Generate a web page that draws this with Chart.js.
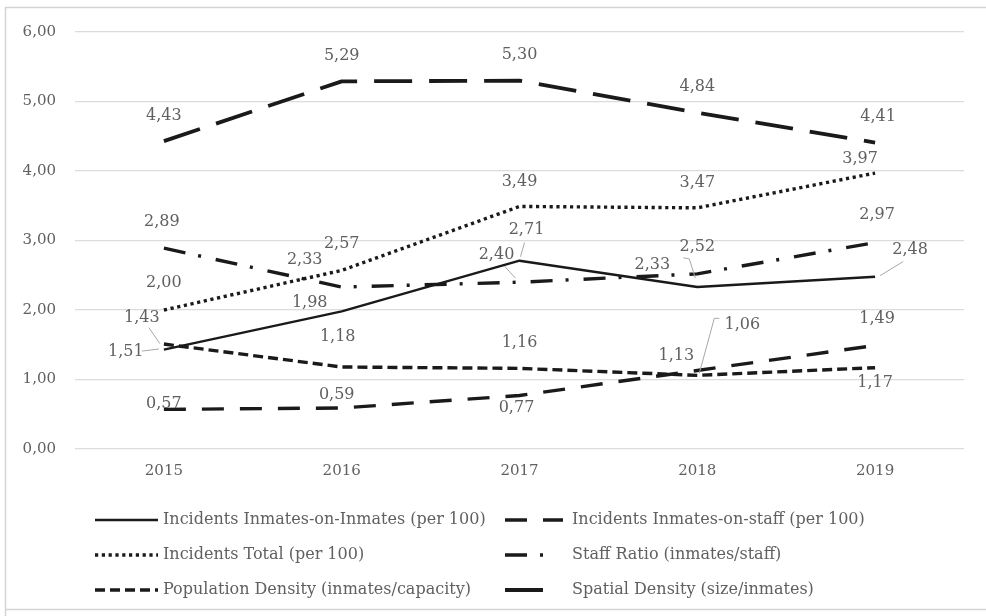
<!DOCTYPE html>
<html><head><meta charset="utf-8">
<script src="https://cdn.jsdelivr.net/npm/chart.js@4"></script>
<style>html,body{margin:0;padding:0;background:#fff}#wrap{width:986px;height:616px;position:relative}</style>
</head><body><div id="wrap"><canvas id="c" width="986" height="616"></canvas></div>
<script>
// ---- data ----
const categories = ['2015', '2016', '2017', '2018', '2019'];
const seriesNames = [
  'Incidents Inmates-on-Inmates (per 100)',
  'Incidents Inmates-on-staff (per 100)',
  'Incidents Total (per 100)',
  'Staff Ratio (inmates/staff)',
  'Population Density (inmates/capacity)',
  'Spatial Density (size/inmates)'
];
const inmatesOnInmates = [1.43, 1.98, 2.71, 2.33, 2.48];
const inmatesOnStaff = [0.57, 0.59, 0.77, 1.13, 1.49];
const incidentsTotal = [2.00, 2.57, 3.49, 3.47, 3.97];
const staffRatio = [2.89, 2.33, 2.40, 2.52, 2.97];
const populationDensity = [1.51, 1.18, 1.16, 1.06, 1.17];
const spatialDensity = [4.43, 5.29, 5.30, 4.84, 4.41];
const yTickValues = [0, 1, 2, 3, 4, 5, 6];

// ---- styles ----
const lineColor = '#1a1a1a';
const textColor = '#606060';
const fontFamily = '"DejaVu Serif", "Liberation Serif", serif';
const seriesStyles = [
  { width: 2.5, dash: [], cap: 'butt' },
  { width: 3.4, dash: [22, 16], cap: 'butt' },
  { width: 3.4, dash: [3.2, 3.6], cap: 'butt' },
  { width: 3.4, dash: [22, 13, 3, 15], cap: 'butt' },
  { width: 3.4, dash: [10, 5], cap: 'butt' },
  { width: 3.8, dash: [38, 17], cap: 'butt' }
];
// label offsets (dx, dy) of label centre from its point
const labelOffsets = [
  [[-22, -32], [-32, -9], [7, -31], [-45, -22], [35, -27]],
  [[0, -6], [-5, -13], [-3, 12], [-21, -15], [2, -27]],
  [[0, -27], [0, -27], [0, -25], [0, -25], [-15, -14]],
  [[-2, -26], [-37, -27], [-23, -27], [0, -27], [2, -28]],
  [[-38, 8], [-4, -30], [0, -26], [45, -50], [0, 15]],
  [[0, -25], [0, -26], [0, -26], [0, -26], [3, -26]]
];
const leaderLines = [
  [[[-15, -22], [-4, -6]], null, [[5, -18], [1, -4]], null, [[28, -15], [5, -1]]],
  [null, null, null, null, null],
  [null, null, null, null, null],
  [null, null, [[-15, -16], [-4, -4]], [[-14, -16], [-8, -15], [-2, 4]], null],
  [[[-22, 7], [-5, 5]], null, null, [[22, -57], [17, -57], [2, -2]], null],
  [null, null, null, null, null]
];
const legendRows = [520, 555, 590];
const legendSampleX = [95, 505];
const legendTextX = [163, 572];
const legendSampleWidth = [63, 58, 63, 45, 63, 43];

const fmt = v => v.toFixed(2).replace('.', ',');
const allSeries = [inmatesOnInmates, inmatesOnStaff, incidentsTotal, staffRatio, populationDensity, spatialDensity];

const datasets = allSeries.map((d, i) => ({
  label: seriesNames[i],
  data: d,
  borderColor: lineColor,
  backgroundColor: lineColor,
  borderWidth: seriesStyles[i].width,
  borderDash: seriesStyles[i].dash,
  borderCapStyle: seriesStyles[i].cap,
  borderJoinStyle: 'round',
  pointRadius: 0,
  tension: 0,
  fill: false
}));

const framePlugin = {
  id: 'frame',
  beforeDraw(chart) {
    const ctx = chart.ctx;
    ctx.save();
    ctx.fillStyle = '#fff';
    ctx.fillRect(0, 0, chart.width, chart.height);
    ctx.strokeStyle = '#d4d4d4';
    ctx.lineWidth = 1.5;
    ctx.beginPath();
    ctx.moveTo(5.5, chart.height);
    ctx.lineTo(5.5, 7.5);
    ctx.lineTo(chart.width, 7.5);
    ctx.moveTo(5.5, 609.5);
    ctx.lineTo(chart.width, 609.5);
    ctx.stroke();
    ctx.restore();
  }
};

const labelPlugin = {
  id: 'valueLabels',
  afterDatasetsDraw(chart) {
    const ctx = chart.ctx;
    ctx.save();
    chart.data.datasets.forEach((ds, di) => {
      const meta = chart.getDatasetMeta(di);
      meta.data.forEach((pt, i) => {
        const lead = leaderLines[di][i];
        if (lead) {
          ctx.strokeStyle = '#a8a8a8';
          ctx.lineWidth = 1;
          ctx.setLineDash([]);
          ctx.beginPath();
          lead.forEach((p, k) => {
            const x = pt.x + p[0], y = pt.y + p[1];
            if (k === 0) ctx.moveTo(x, y); else ctx.lineTo(x, y);
          });
          ctx.stroke();
        }
      });
    });
    ctx.font = '16px ' + fontFamily;
    ctx.fillStyle = textColor;
    ctx.textAlign = 'center';
    ctx.textBaseline = 'middle';
    chart.data.datasets.forEach((ds, di) => {
      const meta = chart.getDatasetMeta(di);
      meta.data.forEach((pt, i) => {
        const o = labelOffsets[di][i];
        ctx.fillText(fmt(ds.data[i]), pt.x + o[0], pt.y + o[1]);
      });
    });
    ctx.restore();
  }
};

const legendPlugin = {
  id: 'gridLegend',
  afterDraw(chart) {
    const ctx = chart.ctx;
    ctx.save();
    chart.data.datasets.forEach((ds, i) => {
      const row = Math.floor(i / 2), col = i % 2;
      const y = legendRows[row];
      const x0 = legendSampleX[col];
      ctx.strokeStyle = lineColor;
      ctx.lineWidth = ds.borderWidth;
      ctx.lineCap = ds.borderCapStyle;
      ctx.setLineDash(ds.borderDash);
      ctx.beginPath();
      ctx.moveTo(x0, y);
      ctx.lineTo(x0 + legendSampleWidth[i], y);
      ctx.stroke();
      ctx.setLineDash([]);
      ctx.font = '16px ' + fontFamily;
      ctx.fillStyle = textColor;
      ctx.textAlign = 'left';
      ctx.textBaseline = 'middle';
      ctx.fillText(ds.label, legendTextX[col], y);
    });
    ctx.restore();
  }
};

new Chart(document.getElementById('c'), {
  type: 'line',
  data: { labels: categories, datasets },
  plugins: [framePlugin, labelPlugin, legendPlugin],
  options: {
    responsive: false,
    animation: false,
    devicePixelRatio: 1,
    layout: { padding: { top: 32, right: 22, bottom: 127, left: 0 } },
    plugins: { legend: { display: false }, tooltip: { enabled: false } },
    scales: {
      x: {
        type: 'category',
        offset: true,
        grid: { display: false, drawTicks: false },
        border: { display: false },
        ticks: { color: textColor, font: { family: fontFamily, size: 15 }, padding: 13, maxRotation: 0 },
        afterFit(s) { s.height = 40; }
      },
      y: {
        min: yTickValues[0],
        max: yTickValues[yTickValues.length - 1],
        afterBuildTicks(s) { s.ticks = yTickValues.map(v => ({ value: v })); },
        grid: { color: '#dcdcdc', lineWidth: 1.2, drawTicks: false },
        border: { display: false },
        ticks: { color: textColor, font: { family: fontFamily, size: 15 }, padding: 19, callback: v => fmt(v) },
        afterFit(s) { s.width = 75; }
      }
    }
  }
});
</script></body></html>
